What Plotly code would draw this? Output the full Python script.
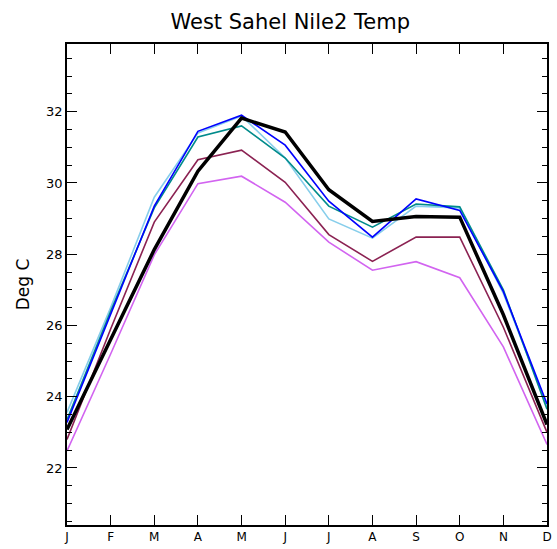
import plotly.graph_objects as go

months = ["J", "F", "M", "A", "M", "J", "J", "A", "S", "O", "N", "D"]
month_idx = list(range(12))

light_blue = [23.56, 26.5, 29.6, 31.4, 31.88, 30.7, 28.99, 28.45, 29.35, 29.3, 26.9, 23.75]
blue       = [23.28, 26.3, 29.35, 31.45, 31.9, 31.06, 29.49, 28.48, 29.55, 29.23, 26.95, 23.8]
teal       = [23.36, 26.4, 29.3, 31.29, 31.6, 30.7, 29.35, 28.76, 29.41, 29.33, 27.0, 23.65]
maroon     = [22.8, 25.9, 28.9, 30.65, 30.92, 30.02, 28.55, 27.8, 28.48, 28.48, 25.95, 23.0]
magenta    = [22.48, 25.2, 27.98, 29.98, 30.19, 29.46, 28.34, 27.55, 27.79, 27.34, 25.4, 22.66]
black      = [23.08, 25.6, 28.13, 30.33, 31.82, 31.43, 29.81, 28.92, 29.06, 29.04, 26.3, 23.22]

series = [
    (light_blue, "#87CEEB", 1.6),
    (teal, "#008B8B", 1.6),
    (blue, "#0000FF", 1.6),
    (maroon, "#8B2252", 1.6),
    (magenta, "#D264F0", 1.6),
    (black, "#000000", 3.5),
]

fig = go.Figure()
for vals, col, w in series:
    fig.add_trace(go.Scatter(x=month_idx, y=vals, mode="lines",
                             line=dict(color=col, width=w), showlegend=False))

font = "DejaVu Sans, sans-serif"
fig.update_layout(
    width=557, height=549,
    margin=dict(l=67, r=5, t=44, b=24),
    paper_bgcolor="white", plot_bgcolor="white",
    title=dict(text="West Sahel Nile2 Temp", x=0.521, xanchor="center", y=0.96, yanchor="middle",
               font=dict(family=font, size=21, color="black")),
    font=dict(family=font, color="black"),
)
fig.update_xaxes(
    range=[0, 11], tickmode="array", tickvals=month_idx, ticktext=months,
    ticks="inside", ticklen=10, tickwidth=1, tickcolor="black",
    showline=True, linecolor="black", linewidth=1.5, mirror="ticks",
    showgrid=False, zeroline=False, tickfont=dict(size=12),
)
fig.update_yaxes(
    range=[20.4, 33.9], tickmode="linear", tick0=22, dtick=2,
    ticks="inside", ticklen=10, tickwidth=1, tickcolor="black",
    minor=dict(ticks="inside", dtick=0.5, tick0=20.5, ticklen=5, tickcolor="black"),
    showline=True, linecolor="black", linewidth=1.5, mirror="ticks",
    showgrid=False, zeroline=False, tickfont=dict(size=13),
    title=dict(text="Deg C", font=dict(size=17), standoff=12),
)

fig.write_html("out.html")
